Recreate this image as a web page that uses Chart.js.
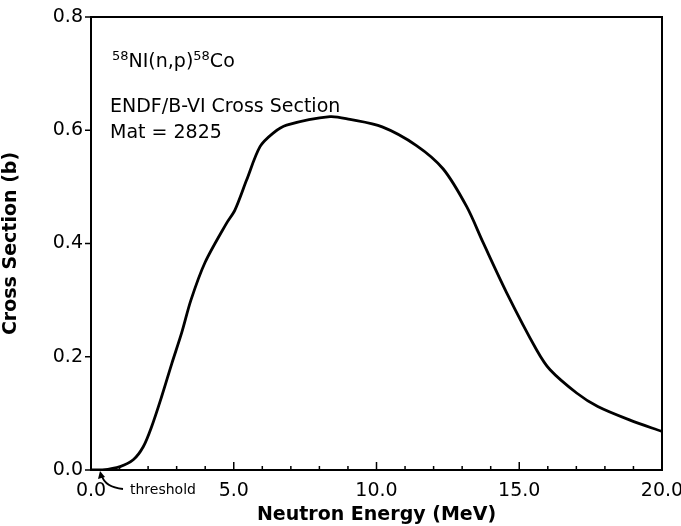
<!DOCTYPE html>
<html>
<head>
<meta charset="utf-8">
<script src="https://cdn.jsdelivr.net/npm/chart.js@4/dist/chart.umd.min.js"></script>
<style>
  html, body { margin: 0; padding: 0; background: #fff; }
  #wrap { width: 681px; height: 526px; }
</style>
</head>
<body>
<div id="wrap"><canvas id="chart" width="681" height="526"></canvas></div>
<script>
// (MeV, barns)
const energy = [0, 0.4, 1.02, 1.48, 1.83, 2.12, 2.47, 2.83, 3.18, 3.5, 3.99, 4.75, 5.04, 5.45, 5.92, 6.38, 6.85, 8.37, 9.07, 10.2, 11.4, 12.33, 13.16, 13.74, 14.56, 15.61, 16.08, 17.01, 17.75, 18.88, 20.0];
const sigma  = [0, 0.0, 0.006, 0.018, 0.041, 0.076, 0.129, 0.188, 0.243, 0.30, 0.366, 0.436, 0.459, 0.512, 0.571, 0.595, 0.609, 0.624, 0.619, 0.606, 0.573, 0.532, 0.465, 0.401, 0.313, 0.212, 0.177, 0.136, 0.112, 0.088, 0.068];
const xTicks = [0, 5, 10, 15, 20];
const xMinor = [1, 2, 3, 4, 6, 7, 8, 9, 11, 12, 13, 14, 16, 17, 18, 19];
const yTicks = [0, 0.2, 0.4, 0.6, 0.8];

const FONT = '"DejaVu Sans", Verdana, sans-serif';

// frame, inward ticks, text labels and threshold arrow
const decorations = {
  id: 'decorations',
  afterDraw(chart) {
    const ctx = chart.ctx;
    const a = chart.chartArea;
    const xs = chart.scales.x, ys = chart.scales.y;
    ctx.save();
    ctx.strokeStyle = '#000';
    ctx.lineWidth = 2;
    ctx.strokeRect(a.left, a.top, a.right - a.left, a.bottom - a.top);

    ctx.lineWidth = 1.5;
    ctx.beginPath();
    xTicks.forEach(v => {
      const px = xs.getPixelForValue(v);
      ctx.moveTo(px, a.bottom); ctx.lineTo(px, a.bottom - 8);
    });
    xMinor.forEach(v => {
      const px = xs.getPixelForValue(v);
      ctx.moveTo(px, a.bottom); ctx.lineTo(px, a.bottom - 4);
    });
    yTicks.forEach(v => {
      const py = ys.getPixelForValue(v);
      ctx.moveTo(a.left, py); ctx.lineTo(a.left - 6, py);
    });
    ctx.stroke();

    // reaction label with superscripts
    ctx.fillStyle = '#000';
    ctx.textBaseline = 'alphabetic';
    let x = a.left + 21, base = 67;
    const parts = [['58', true], ['NI(n,p)', false], ['58', true], ['Co', false]];
    parts.forEach(([t, sup]) => {
      ctx.font = (sup ? '13px ' : '19px ') + FONT;
      ctx.fillText(t, x, sup ? base - 7 : base);
      x += ctx.measureText(t).width;
    });
    ctx.font = '19px ' + FONT;
    ctx.fillText('ENDF/B-VI Cross Section', a.left + 19, 112);
    ctx.fillText('Mat = 2825', a.left + 19, 138);

    // threshold note
    ctx.font = '14px ' + FONT;
    ctx.fillText('threshold', a.left + 39, a.bottom + 24);
    const tx = xs.getPixelForValue(0.35);
    ctx.lineWidth = 1.8;
    ctx.beginPath();
    ctx.moveTo(a.left + 32, a.bottom + 19);
    ctx.quadraticCurveTo(tx + 4, a.bottom + 17, tx + 1, a.bottom + 6);
    ctx.stroke();
    ctx.beginPath();
    ctx.moveTo(tx - 1, a.bottom + 1);
    ctx.lineTo(tx - 3, a.bottom + 9);
    ctx.lineTo(tx + 4, a.bottom + 7);
    ctx.closePath();
    ctx.fill();
    ctx.restore();
  }
};

new Chart(document.getElementById('chart'), {
  type: 'line',
  data: {
    datasets: [{
      data: energy.map((e, i) => ({ x: e, y: sigma[i] })),
      borderColor: '#000',
      borderWidth: 2.8,
      pointRadius: 0,
      fill: false,
      tension: 0.3
    }]
  },
  options: {
    responsive: false,
    animation: false,
    events: [],
    layout: { padding: { left: 0, right: 19, top: 17, bottom: 0 } },
    plugins: { legend: { display: false }, tooltip: { enabled: false } },
    scales: {
      x: {
        type: 'linear', min: 0, max: 20,
        afterBuildTicks: s => { s.ticks = xTicks.map(v => ({ value: v })); },
        afterFit: s => { s.height = 56; s.paddingLeft = 0; s.paddingRight = 0; },
        grid: { display: false, drawTicks: false },
        border: { display: false },
        ticks: {
          font: { family: FONT, size: 19 }, color: '#000', padding: 10,
          maxRotation: 0,
          callback: v => v.toFixed(1)
        },
        title: {
          display: true, text: 'Neutron Energy (MeV)', color: '#000',
          font: { family: FONT, size: 19, weight: 'bold' }, padding: { top: 0, bottom: 0 }
        }
      },
      y: {
        type: 'linear', min: 0, max: 0.8,
        afterBuildTicks: s => { s.ticks = yTicks.map(v => ({ value: v })); },
        afterFit: s => { s.width = 91; s.paddingTop = 0; s.paddingBottom = 0; },
        grid: { display: false, drawTicks: false },
        border: { display: false },
        ticks: {
          font: { family: FONT, size: 19 }, color: '#000', padding: 8,
          callback: v => v.toFixed(1)
        },
        title: {
          display: true, text: 'Cross Section (b)', color: '#000',
          font: { family: FONT, size: 19, weight: 'bold' }, padding: { top: 0, bottom: 6 }
        }
      }
    }
  },
  plugins: [decorations]
});
</script>
</body>
</html>
